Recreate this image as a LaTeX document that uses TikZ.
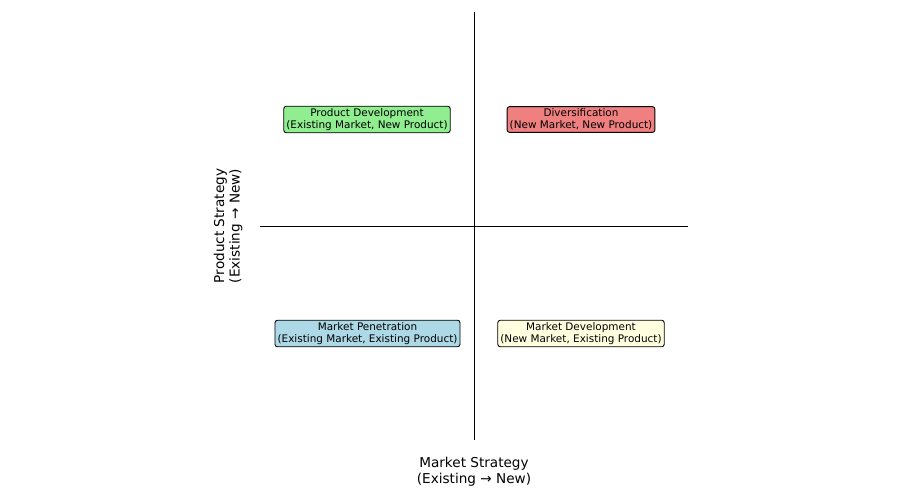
\documentclass[tikz,border=0pt]{standalone}
\usepackage{fontspec}
\setmainfont{DejaVu Sans}
\definecolor{lightgreen}{RGB}{144,238,144}
\definecolor{lightcoral}{RGB}{240,128,128}
\definecolor{lightblue}{RGB}{173,216,230}
\definecolor{lightyellow}{RGB}{255,255,224}
\begin{document}
\begin{tikzpicture}[x=1pt,y=-1pt,
  quadbox/.style={draw=black, line width=0.9pt, rounded corners=2.5pt,
    align=center, inner xsep=2.6pt, inner ysep=2.2pt,
    font=\fontsize{10.45}{12}\selectfont},
  axislabel/.style={align=center, font=\fontsize{13.6}{15.5}\selectfont}]

  \useasboundingbox (0,0) rectangle (900,500);

  %% axes
  \coordinate (top) at (474,12);
  \coordinate (bottom) at (474,440);
  \coordinate (left) at (260,226);
  \coordinate (right) at (688,226);
  \draw[thick] (top) -- (bottom);
  \draw[thick] (left) -- (right);

  %% quadrants
  \node[quadbox, fill=lightgreen] (prodev) at (367,119.5)
    {Product Development\\(Existing Market, New Product)};
  \node[quadbox, fill=lightcoral] (divers) at (581,119.5)
    {Diversification\\(New Market, New Product)};
  \node[quadbox, fill=lightblue] (marpen) at (367.5,333.5)
    {Market Penetration\\(Existing Market, Existing Product)};
  \node[quadbox, fill=lightyellow] (mardev) at (581,333.5)
    {Market Development\\(New Market, Existing Product)};

  %% axis labels
  \node[axislabel] (xlabel) at (474,471.5)
    {Market Strategy\\(Existing → New)};
  \node[axislabel, rotate=90] (ylabel) at (228,226)
    {Product Strategy\\(Existing → New)};

\end{tikzpicture}
\end{document}
